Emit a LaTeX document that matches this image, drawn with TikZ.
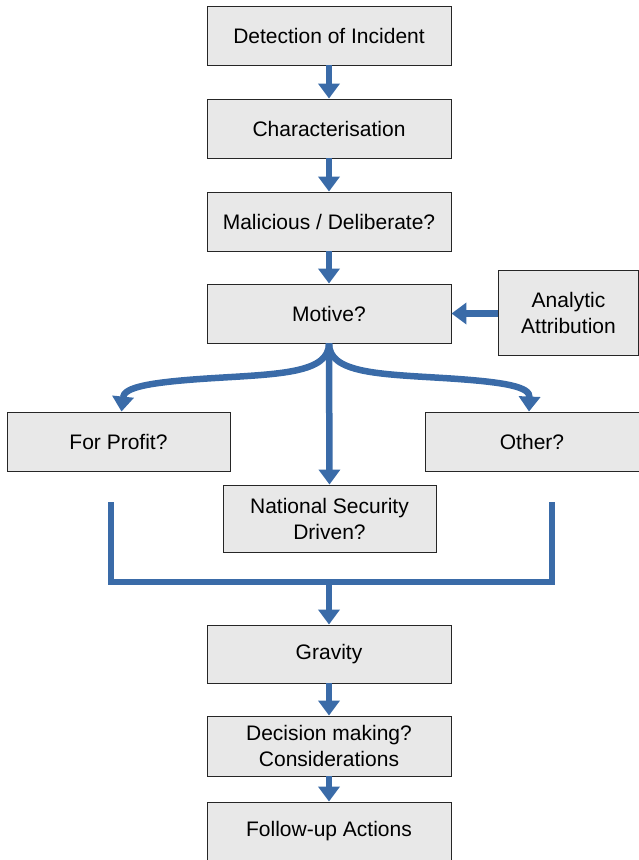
\documentclass[tikz,border=0pt]{standalone}
\usepackage{fontspec}
\setmainfont{Liberation Sans}
\usetikzlibrary{arrows.meta}
\definecolor{flowblue}{RGB}{58,107,168}
\definecolor{boxgrey}{RGB}{232,232,232}
\begin{document}
\begin{tikzpicture}[x=1pt,y=-1pt,
  box/.style={draw=black!85,line width=0.9pt,fill=boxgrey,align=center,
    inner sep=0pt,font=\fontsize{21}{26}\selectfont},
  flow/.style={draw=flowblue,line width=6.5pt,
    -{Triangle[width=21pt,length=15pt]}},
  bar/.style={draw=flowblue,line width=6.5pt}]
\useasboundingbox (0,0) rectangle (639,860);
% main column
\node[box,minimum width=244pt,minimum height=59pt] (det) at (329,35.5) {Detection of Incident};
\node[box,minimum width=244pt,minimum height=59pt] (char) at (329,128.5) {Characterisation};
\node[box,minimum width=244pt,minimum height=59pt] (mal) at (329,221.5) {Malicious / Deliberate?};
\node[box,minimum width=244pt,minimum height=59pt] (mot) at (329,313.5) {Motive?};
\node[box,minimum width=140pt,minimum height=85pt] (ana) at (568.5,312.5) {Analytic\\Attribution};
% motive branches
\node[box,minimum width=223pt,minimum height=59pt] (prof) at (118.5,441.5) {For Profit?};
\node[box,minimum width=214pt,minimum height=59pt] (oth) at (532,441.5) {Other?};
\node[box,minimum width=213pt,minimum height=67pt] (nat) at (329.5,518.5) {National Security\\Driven?};
% lower column
\node[box,minimum width=244pt,minimum height=58pt] (grav) at (329,654) {Gravity};
\node[box,minimum width=244pt,minimum height=60pt] (dec) at (329,746) {Decision making?\\Considerations};
\node[box,minimum width=244pt,minimum height=59pt] (fol) at (329,831.5) {Follow-up Actions};
% straight connectors
\draw[flow] (det) -- (char);
\draw[flow] (char) -- (mal);
\draw[flow] (mal) -- (mot);
\draw[flow] (ana.west |- mot.east) -- (mot.east);
\draw[flow] (mot.south) -- (nat.north);
% curved branches
\draw[flow] (mot.south) .. controls (329,373) and (280,374) .. (215,378)
  .. controls (150,382) and (124,387) .. ([xshift=3pt]prof.north);
\draw[flow] (mot.south) .. controls (329,373) and (378,374) .. (443,378)
  .. controls (508,382) and (530,387) .. ([xshift=-3pt]oth.north);
% collecting bracket
\coordinate (bl) at (111,502);
\coordinate (br) at (552,502);
\coordinate (jn) at (329,582);
\draw[bar,line cap=butt] (bl) |- (jn) -| (br);
\draw[flow] (jn) -- (grav.north);
\draw[flow] (grav) -- (dec);
\draw[flow] (dec) -- (fol);
\end{tikzpicture}
\end{document}
